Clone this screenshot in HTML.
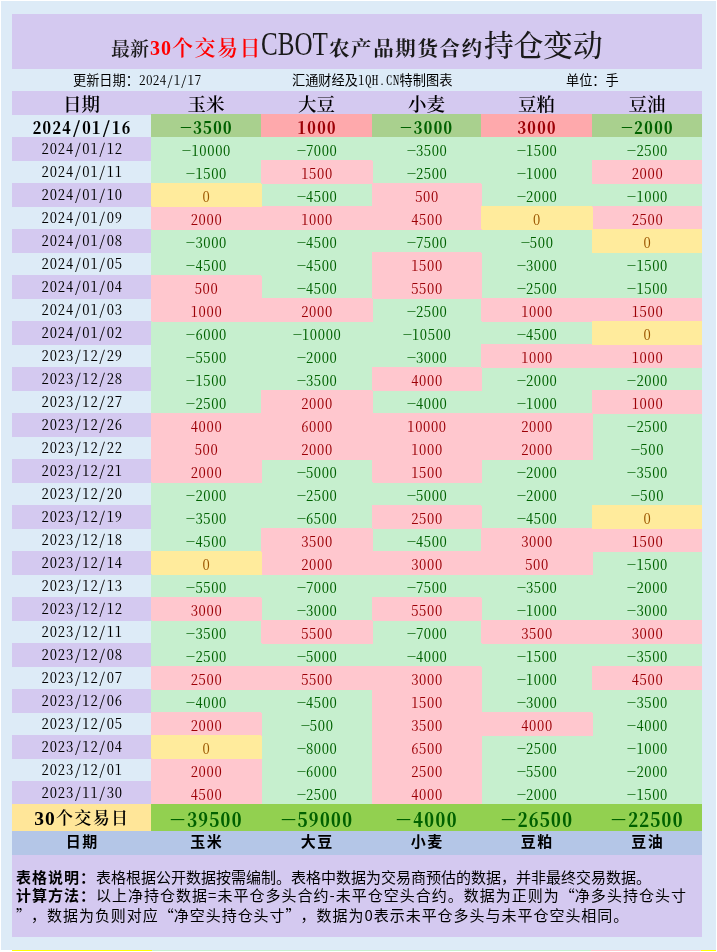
<!DOCTYPE html>
<html lang="zh-CN"><head><meta charset="utf-8"><title>最新30个交易日CBOT农产品期货合约持仓变动</title>
<style>
*{margin:0;padding:0;box-sizing:border-box}
html,body{width:717px;height:952px;overflow:hidden;background:#fff}
body{position:relative;font-family:"Liberation Sans","Noto Sans CJK SC",sans-serif}
.a{position:absolute;white-space:nowrap}
#bg{left:1px;top:1px;width:715px;height:949px;background:#DDEBF7}
#title{left:12px;top:14px;width:690px;height:55px;background:#D4C9F0}
.tt{position:absolute;white-space:nowrap;line-height:1;color:#1a1a1a}
.info{font-size:13.2px;line-height:22px;top:69px;color:#000;font-family:"Noto Sans CJK SC",sans-serif}
.info i{font-style:normal;font-family:'Noto Serif CJK SC',serif;font-feature-settings:'hwid';font-size:13.2px;letter-spacing:0.35px}
.c{position:absolute;text-align:center;white-space:nowrap;overflow:hidden;height:23px;line-height:23px}
.c>span{display:inline-block;position:relative}
.hd{background:#D4C9F0;font-family:"Noto Serif CJK SC",serif;font-weight:600;font-size:18.5px;color:#000;letter-spacing:0px}
.hd>span{top:1px;left:0px}
.d{font-family:'Noto Serif CJK SC',serif;font-feature-settings:'hwid';font-weight:400;font-size:14.6px;color:#000;letter-spacing:0.85px}
.d>span,.v>span{top:-1px;left:0.8px}
.v>span{top:0.5px;left:0.5px}
.p{background:#D4C9F0;box-shadow:0 1px 0 #D4C9F0}
.v{font-family:'Noto Serif CJK SC',serif;font-feature-settings:'hwid';font-weight:400;font-size:14.6px;letter-spacing:0.6px}
.g{background:#C6EFCE;color:#006100;z-index:1;box-shadow:1px 1px 0 #C6EFCE}
.r{background:#FFC7CE;color:#9C0006;z-index:2;box-shadow:1px 1px 0 #FFC7CE}
.y{background:#FFEB9C;color:#9C5700;z-index:3;box-shadow:1px 1px 0 #FFEB9C}
.lc.g{box-shadow:0 1px 0 #C6EFCE}
.lc.r{box-shadow:0 1px 0 #FFC7CE}
.lc.y{box-shadow:0 1px 0 #FFEB9C}
.c.f1{box-shadow:none;z-index:0}
.hd0{box-shadow:0 1px 0 #D4C9F0}
.f1{font-family:'Noto Serif CJK SC',serif;font-feature-settings:'hwid';font-weight:bold;font-size:17px;letter-spacing:1.4px}
.f1>span{top:1.2px;left:0.7px}
.sl{font-style:normal;margin:0 0px}
.mn{font-style:normal;display:inline-block;transform:scaleX(1.4);margin:0 1.5px;transform-origin:50% 50%}
.tm{font-style:normal;display:inline-block;transform:scaleX(1.6);margin:0 2.76px;transform-origin:50% 50%}
.vm{font-style:normal;display:inline-block;transform:scaleX(1.3);margin:0 0.2px 0 1.3px;transform-origin:50% 50%}
.g.f1{background:#A9D08E;color:#006100}
.r.f1{background:#FEA9AC;color:#9C0006}
.tot{height:27px;line-height:27px;z-index:5}
.totd{background:#FFE699;font-family:"Liberation Serif","Noto Serif CJK SC",serif;font-weight:600;font-size:17px;color:#000;letter-spacing:1.3px}
.n30{font-style:normal;font-size:19.5px;letter-spacing:1.2px;font-weight:bold;vertical-align:top}
.totd>span{top:1.0px;left:0.2px}
.totv{background:#92D050;color:#006100;font-family:'Noto Serif CJK SC',serif;font-feature-settings:'hwid';font-weight:700;font-size:19.5px;letter-spacing:1.4px}
.totv>span{top:1.5px;left:0.7px}
.ft{background:#B4C6E7;height:24px;line-height:24px;font-family:"Noto Sans CJK SC",sans-serif;font-weight:bold;font-size:15px;letter-spacing:1.3px;color:#000;z-index:5}
.ft>span{top:-2.3px;left:0.65px}
#notes{left:12px;top:855px;width:690px;height:82px;background:#D4C9F0}
.nl{position:absolute;left:16px;font-size:15px;line-height:1;color:#000;font-family:"Noto Sans CJK SC",sans-serif;white-space:nowrap}
.nl b{font-weight:bold;letter-spacing:1px;font-size:15px}
.ql,.qr{display:inline-block;width:15px}
.ql{text-align:right}
.qr{text-align:left}

</style></head><body>
<div class="a" id="bg"></div>
<div class="a" id="title"></div>
<div class="tt" style="left:111px;top:38px;font-size:19px;font-family:'Noto Serif CJK SC',serif;font-weight:600;letter-spacing:0px">最新</div>
<div class="tt" style="left:150px;top:38px;font-size:20px;font-family:'Liberation Serif',serif;font-weight:700;letter-spacing:1px;color:#FF0000">30</div>
<div class="tt" style="left:172px;top:35.5px;font-size:21px;font-family:'Noto Serif CJK SC',serif;font-weight:600;letter-spacing:1.5px;color:#FF0000">个交易日</div>
<div class="tt" style="left:261px;top:28px;font-size:33px;font-family:'Liberation Serif',serif;font-weight:400;letter-spacing:0px;transform:scaleX(0.76);transform-origin:0 0">CBOT</div>
<div class="tt" style="left:329px;top:36.7px;font-size:20.5px;font-family:'Noto Serif CJK SC',serif;font-weight:700;letter-spacing:1.6px">农产品期货合约</div>
<div class="tt" style="left:484px;top:29px;font-size:29.7px;font-family:'Noto Serif CJK SC',serif;font-weight:500;letter-spacing:0px">持仓变动</div>
<div class="a info" style="left:73px">更新日期：<i>2024/1/17</i></div>
<div class="a info" style="left:292px">汇通财经及<i>1QH.CN</i>特制图表</div>
<div class="a info" style="left:566px">单位：手</div>
<div class="c hd hd0" style="left:12px;top:91px;width:139px"><span>日期</span></div>
<div class="c hd" style="left:151px;top:91px;width:110px"><span>玉米</span></div>
<div class="c hd" style="left:261px;top:91px;width:111px"><span>大豆</span></div>
<div class="c hd" style="left:372px;top:91px;width:109px"><span>小麦</span></div>
<div class="c hd" style="left:481px;top:91px;width:111px"><span>豆粕</span></div>
<div class="c hd" style="left:592px;top:91px;width:110px"><span>豆油</span></div>
<div class="c f1" style="left:12px;top:114px;width:139px;color:#000"><span>2024<i class="sl">/</i>01<i class="sl">/</i>16</span></div>
<div class="c g f1" style="left:151px;top:114px;width:110px"><span><i class="mn">-</i>3500</span></div>
<div class="c r f1" style="left:261px;top:114px;width:111px"><span>1000</span></div>
<div class="c g f1" style="left:372px;top:114px;width:109px"><span><i class="mn">-</i>3000</span></div>
<div class="c r f1" style="left:481px;top:114px;width:111px"><span>3000</span></div>
<div class="c g f1 lc" style="left:592px;top:114px;width:110px"><span><i class="mn">-</i>2000</span></div>
<div class="c d p" style="left:12px;top:137px;width:139px"><span>2024/01/12</span></div>
<div class="c g v" style="left:151px;top:137px;width:110px"><span><i class="vm">-</i>10000</span></div>
<div class="c g v" style="left:261px;top:137px;width:111px"><span><i class="vm">-</i>7000</span></div>
<div class="c g v" style="left:372px;top:137px;width:109px"><span><i class="vm">-</i>3500</span></div>
<div class="c g v" style="left:481px;top:137px;width:111px"><span><i class="vm">-</i>1500</span></div>
<div class="c g v lc" style="left:592px;top:137px;width:110px"><span><i class="vm">-</i>2500</span></div>
<div class="c d" style="left:12px;top:160px;width:139px"><span>2024/01/11</span></div>
<div class="c g v" style="left:151px;top:160px;width:110px"><span><i class="vm">-</i>1500</span></div>
<div class="c r v" style="left:261px;top:160px;width:111px"><span>1500</span></div>
<div class="c g v" style="left:372px;top:160px;width:109px"><span><i class="vm">-</i>2500</span></div>
<div class="c g v" style="left:481px;top:160px;width:111px"><span><i class="vm">-</i>1000</span></div>
<div class="c r v lc" style="left:592px;top:160px;width:110px"><span>2000</span></div>
<div class="c d p" style="left:12px;top:183px;width:139px"><span>2024/01/10</span></div>
<div class="c y v" style="left:151px;top:183px;width:110px"><span>0</span></div>
<div class="c g v" style="left:261px;top:183px;width:111px"><span><i class="vm">-</i>4500</span></div>
<div class="c r v" style="left:372px;top:183px;width:109px"><span>500</span></div>
<div class="c g v" style="left:481px;top:183px;width:111px"><span><i class="vm">-</i>2000</span></div>
<div class="c g v lc" style="left:592px;top:183px;width:110px"><span><i class="vm">-</i>1000</span></div>
<div class="c d" style="left:12px;top:206px;width:139px"><span>2024/01/09</span></div>
<div class="c r v" style="left:151px;top:206px;width:110px"><span>2000</span></div>
<div class="c r v" style="left:261px;top:206px;width:111px"><span>1000</span></div>
<div class="c r v" style="left:372px;top:206px;width:109px"><span>4500</span></div>
<div class="c y v" style="left:481px;top:206px;width:111px"><span>0</span></div>
<div class="c r v lc" style="left:592px;top:206px;width:110px"><span>2500</span></div>
<div class="c d p" style="left:12px;top:229px;width:139px"><span>2024/01/08</span></div>
<div class="c g v" style="left:151px;top:229px;width:110px"><span><i class="vm">-</i>3000</span></div>
<div class="c g v" style="left:261px;top:229px;width:111px"><span><i class="vm">-</i>4500</span></div>
<div class="c g v" style="left:372px;top:229px;width:109px"><span><i class="vm">-</i>7500</span></div>
<div class="c g v" style="left:481px;top:229px;width:111px"><span><i class="vm">-</i>500</span></div>
<div class="c y v lc" style="left:592px;top:229px;width:110px"><span>0</span></div>
<div class="c d" style="left:12px;top:252px;width:139px"><span>2024/01/05</span></div>
<div class="c g v" style="left:151px;top:252px;width:110px"><span><i class="vm">-</i>4500</span></div>
<div class="c g v" style="left:261px;top:252px;width:111px"><span><i class="vm">-</i>4500</span></div>
<div class="c r v" style="left:372px;top:252px;width:109px"><span>1500</span></div>
<div class="c g v" style="left:481px;top:252px;width:111px"><span><i class="vm">-</i>3000</span></div>
<div class="c g v lc" style="left:592px;top:252px;width:110px"><span><i class="vm">-</i>1500</span></div>
<div class="c d p" style="left:12px;top:275px;width:139px"><span>2024/01/04</span></div>
<div class="c r v" style="left:151px;top:275px;width:110px"><span>500</span></div>
<div class="c g v" style="left:261px;top:275px;width:111px"><span><i class="vm">-</i>4500</span></div>
<div class="c r v" style="left:372px;top:275px;width:109px"><span>5500</span></div>
<div class="c g v" style="left:481px;top:275px;width:111px"><span><i class="vm">-</i>2500</span></div>
<div class="c g v lc" style="left:592px;top:275px;width:110px"><span><i class="vm">-</i>1500</span></div>
<div class="c d" style="left:12px;top:298px;width:139px"><span>2024/01/03</span></div>
<div class="c r v" style="left:151px;top:298px;width:110px"><span>1000</span></div>
<div class="c r v" style="left:261px;top:298px;width:111px"><span>2000</span></div>
<div class="c g v" style="left:372px;top:298px;width:109px"><span><i class="vm">-</i>2500</span></div>
<div class="c r v" style="left:481px;top:298px;width:111px"><span>1000</span></div>
<div class="c r v lc" style="left:592px;top:298px;width:110px"><span>1500</span></div>
<div class="c d p" style="left:12px;top:321px;width:139px"><span>2024/01/02</span></div>
<div class="c g v" style="left:151px;top:321px;width:110px"><span><i class="vm">-</i>6000</span></div>
<div class="c g v" style="left:261px;top:321px;width:111px"><span><i class="vm">-</i>10000</span></div>
<div class="c g v" style="left:372px;top:321px;width:109px"><span><i class="vm">-</i>10500</span></div>
<div class="c g v" style="left:481px;top:321px;width:111px"><span><i class="vm">-</i>4500</span></div>
<div class="c y v lc" style="left:592px;top:321px;width:110px"><span>0</span></div>
<div class="c d" style="left:12px;top:344px;width:139px"><span>2023/12/29</span></div>
<div class="c g v" style="left:151px;top:344px;width:110px"><span><i class="vm">-</i>5500</span></div>
<div class="c g v" style="left:261px;top:344px;width:111px"><span><i class="vm">-</i>2000</span></div>
<div class="c g v" style="left:372px;top:344px;width:109px"><span><i class="vm">-</i>3000</span></div>
<div class="c r v" style="left:481px;top:344px;width:111px"><span>1000</span></div>
<div class="c r v lc" style="left:592px;top:344px;width:110px"><span>1000</span></div>
<div class="c d p" style="left:12px;top:367px;width:139px"><span>2023/12/28</span></div>
<div class="c g v" style="left:151px;top:367px;width:110px"><span><i class="vm">-</i>1500</span></div>
<div class="c g v" style="left:261px;top:367px;width:111px"><span><i class="vm">-</i>3500</span></div>
<div class="c r v" style="left:372px;top:367px;width:109px"><span>4000</span></div>
<div class="c g v" style="left:481px;top:367px;width:111px"><span><i class="vm">-</i>2000</span></div>
<div class="c g v lc" style="left:592px;top:367px;width:110px"><span><i class="vm">-</i>2000</span></div>
<div class="c d" style="left:12px;top:390px;width:139px"><span>2023/12/27</span></div>
<div class="c g v" style="left:151px;top:390px;width:110px"><span><i class="vm">-</i>2500</span></div>
<div class="c r v" style="left:261px;top:390px;width:111px"><span>2000</span></div>
<div class="c g v" style="left:372px;top:390px;width:109px"><span><i class="vm">-</i>4000</span></div>
<div class="c g v" style="left:481px;top:390px;width:111px"><span><i class="vm">-</i>1000</span></div>
<div class="c r v lc" style="left:592px;top:390px;width:110px"><span>1000</span></div>
<div class="c d p" style="left:12px;top:413px;width:139px"><span>2023/12/26</span></div>
<div class="c r v" style="left:151px;top:413px;width:110px"><span>4000</span></div>
<div class="c r v" style="left:261px;top:413px;width:111px"><span>6000</span></div>
<div class="c r v" style="left:372px;top:413px;width:109px"><span>10000</span></div>
<div class="c r v" style="left:481px;top:413px;width:111px"><span>2000</span></div>
<div class="c g v lc" style="left:592px;top:413px;width:110px"><span><i class="vm">-</i>2500</span></div>
<div class="c d" style="left:12px;top:436px;width:139px"><span>2023/12/22</span></div>
<div class="c r v" style="left:151px;top:436px;width:110px"><span>500</span></div>
<div class="c r v" style="left:261px;top:436px;width:111px"><span>2000</span></div>
<div class="c r v" style="left:372px;top:436px;width:109px"><span>1000</span></div>
<div class="c r v" style="left:481px;top:436px;width:111px"><span>2000</span></div>
<div class="c g v lc" style="left:592px;top:436px;width:110px"><span><i class="vm">-</i>500</span></div>
<div class="c d p" style="left:12px;top:459px;width:139px"><span>2023/12/21</span></div>
<div class="c r v" style="left:151px;top:459px;width:110px"><span>2000</span></div>
<div class="c g v" style="left:261px;top:459px;width:111px"><span><i class="vm">-</i>5000</span></div>
<div class="c r v" style="left:372px;top:459px;width:109px"><span>1500</span></div>
<div class="c g v" style="left:481px;top:459px;width:111px"><span><i class="vm">-</i>2000</span></div>
<div class="c g v lc" style="left:592px;top:459px;width:110px"><span><i class="vm">-</i>3500</span></div>
<div class="c d" style="left:12px;top:482px;width:139px"><span>2023/12/20</span></div>
<div class="c g v" style="left:151px;top:482px;width:110px"><span><i class="vm">-</i>2000</span></div>
<div class="c g v" style="left:261px;top:482px;width:111px"><span><i class="vm">-</i>2500</span></div>
<div class="c g v" style="left:372px;top:482px;width:109px"><span><i class="vm">-</i>5000</span></div>
<div class="c g v" style="left:481px;top:482px;width:111px"><span><i class="vm">-</i>2000</span></div>
<div class="c g v lc" style="left:592px;top:482px;width:110px"><span><i class="vm">-</i>500</span></div>
<div class="c d p" style="left:12px;top:505px;width:139px"><span>2023/12/19</span></div>
<div class="c g v" style="left:151px;top:505px;width:110px"><span><i class="vm">-</i>3500</span></div>
<div class="c g v" style="left:261px;top:505px;width:111px"><span><i class="vm">-</i>6500</span></div>
<div class="c r v" style="left:372px;top:505px;width:109px"><span>2500</span></div>
<div class="c g v" style="left:481px;top:505px;width:111px"><span><i class="vm">-</i>4500</span></div>
<div class="c y v lc" style="left:592px;top:505px;width:110px"><span>0</span></div>
<div class="c d" style="left:12px;top:528px;width:139px"><span>2023/12/18</span></div>
<div class="c g v" style="left:151px;top:528px;width:110px"><span><i class="vm">-</i>4500</span></div>
<div class="c r v" style="left:261px;top:528px;width:111px"><span>3500</span></div>
<div class="c g v" style="left:372px;top:528px;width:109px"><span><i class="vm">-</i>4500</span></div>
<div class="c r v" style="left:481px;top:528px;width:111px"><span>3000</span></div>
<div class="c r v lc" style="left:592px;top:528px;width:110px"><span>1500</span></div>
<div class="c d p" style="left:12px;top:551px;width:139px"><span>2023/12/14</span></div>
<div class="c y v" style="left:151px;top:551px;width:110px"><span>0</span></div>
<div class="c r v" style="left:261px;top:551px;width:111px"><span>2000</span></div>
<div class="c r v" style="left:372px;top:551px;width:109px"><span>3000</span></div>
<div class="c r v" style="left:481px;top:551px;width:111px"><span>500</span></div>
<div class="c g v lc" style="left:592px;top:551px;width:110px"><span><i class="vm">-</i>1500</span></div>
<div class="c d" style="left:12px;top:574px;width:139px"><span>2023/12/13</span></div>
<div class="c g v" style="left:151px;top:574px;width:110px"><span><i class="vm">-</i>5500</span></div>
<div class="c g v" style="left:261px;top:574px;width:111px"><span><i class="vm">-</i>7000</span></div>
<div class="c g v" style="left:372px;top:574px;width:109px"><span><i class="vm">-</i>7500</span></div>
<div class="c g v" style="left:481px;top:574px;width:111px"><span><i class="vm">-</i>3500</span></div>
<div class="c g v lc" style="left:592px;top:574px;width:110px"><span><i class="vm">-</i>2000</span></div>
<div class="c d p" style="left:12px;top:597px;width:139px"><span>2023/12/12</span></div>
<div class="c r v" style="left:151px;top:597px;width:110px"><span>3000</span></div>
<div class="c g v" style="left:261px;top:597px;width:111px"><span><i class="vm">-</i>3000</span></div>
<div class="c r v" style="left:372px;top:597px;width:109px"><span>5500</span></div>
<div class="c g v" style="left:481px;top:597px;width:111px"><span><i class="vm">-</i>1000</span></div>
<div class="c g v lc" style="left:592px;top:597px;width:110px"><span><i class="vm">-</i>3000</span></div>
<div class="c d" style="left:12px;top:620px;width:139px"><span>2023/12/11</span></div>
<div class="c g v" style="left:151px;top:620px;width:110px"><span><i class="vm">-</i>3500</span></div>
<div class="c r v" style="left:261px;top:620px;width:111px"><span>5500</span></div>
<div class="c g v" style="left:372px;top:620px;width:109px"><span><i class="vm">-</i>7000</span></div>
<div class="c r v" style="left:481px;top:620px;width:111px"><span>3500</span></div>
<div class="c r v lc" style="left:592px;top:620px;width:110px"><span>3000</span></div>
<div class="c d p" style="left:12px;top:643px;width:139px"><span>2023/12/08</span></div>
<div class="c g v" style="left:151px;top:643px;width:110px"><span><i class="vm">-</i>2500</span></div>
<div class="c g v" style="left:261px;top:643px;width:111px"><span><i class="vm">-</i>5000</span></div>
<div class="c g v" style="left:372px;top:643px;width:109px"><span><i class="vm">-</i>4000</span></div>
<div class="c g v" style="left:481px;top:643px;width:111px"><span><i class="vm">-</i>1500</span></div>
<div class="c g v lc" style="left:592px;top:643px;width:110px"><span><i class="vm">-</i>3500</span></div>
<div class="c d" style="left:12px;top:666px;width:139px"><span>2023/12/07</span></div>
<div class="c r v" style="left:151px;top:666px;width:110px"><span>2500</span></div>
<div class="c r v" style="left:261px;top:666px;width:111px"><span>5500</span></div>
<div class="c r v" style="left:372px;top:666px;width:109px"><span>3000</span></div>
<div class="c g v" style="left:481px;top:666px;width:111px"><span><i class="vm">-</i>1000</span></div>
<div class="c r v lc" style="left:592px;top:666px;width:110px"><span>4500</span></div>
<div class="c d p" style="left:12px;top:689px;width:139px"><span>2023/12/06</span></div>
<div class="c g v" style="left:151px;top:689px;width:110px"><span><i class="vm">-</i>4000</span></div>
<div class="c g v" style="left:261px;top:689px;width:111px"><span><i class="vm">-</i>4500</span></div>
<div class="c r v" style="left:372px;top:689px;width:109px"><span>1500</span></div>
<div class="c g v" style="left:481px;top:689px;width:111px"><span><i class="vm">-</i>3000</span></div>
<div class="c g v lc" style="left:592px;top:689px;width:110px"><span><i class="vm">-</i>3500</span></div>
<div class="c d" style="left:12px;top:712px;width:139px"><span>2023/12/05</span></div>
<div class="c r v" style="left:151px;top:712px;width:110px"><span>2000</span></div>
<div class="c g v" style="left:261px;top:712px;width:111px"><span><i class="vm">-</i>500</span></div>
<div class="c r v" style="left:372px;top:712px;width:109px"><span>3500</span></div>
<div class="c r v" style="left:481px;top:712px;width:111px"><span>4000</span></div>
<div class="c g v lc" style="left:592px;top:712px;width:110px"><span><i class="vm">-</i>4000</span></div>
<div class="c d p" style="left:12px;top:735px;width:139px"><span>2023/12/04</span></div>
<div class="c y v" style="left:151px;top:735px;width:110px"><span>0</span></div>
<div class="c g v" style="left:261px;top:735px;width:111px"><span><i class="vm">-</i>8000</span></div>
<div class="c r v" style="left:372px;top:735px;width:109px"><span>6500</span></div>
<div class="c g v" style="left:481px;top:735px;width:111px"><span><i class="vm">-</i>2500</span></div>
<div class="c g v lc" style="left:592px;top:735px;width:110px"><span><i class="vm">-</i>1000</span></div>
<div class="c d" style="left:12px;top:758px;width:139px"><span>2023/12/01</span></div>
<div class="c r v" style="left:151px;top:758px;width:110px"><span>2000</span></div>
<div class="c g v" style="left:261px;top:758px;width:111px"><span><i class="vm">-</i>6000</span></div>
<div class="c r v" style="left:372px;top:758px;width:109px"><span>2500</span></div>
<div class="c g v" style="left:481px;top:758px;width:111px"><span><i class="vm">-</i>5500</span></div>
<div class="c g v lc" style="left:592px;top:758px;width:110px"><span><i class="vm">-</i>2000</span></div>
<div class="c d p" style="left:12px;top:781px;width:139px"><span>2023/11/30</span></div>
<div class="c r v" style="left:151px;top:781px;width:110px"><span>4500</span></div>
<div class="c g v" style="left:261px;top:781px;width:111px"><span><i class="vm">-</i>2500</span></div>
<div class="c r v" style="left:372px;top:781px;width:109px"><span>4000</span></div>
<div class="c g v" style="left:481px;top:781px;width:111px"><span><i class="vm">-</i>2000</span></div>
<div class="c g v lc" style="left:592px;top:781px;width:110px"><span><i class="vm">-</i>1500</span></div>
<div class="c tot totd" style="left:12px;top:804px;width:139px"><span><i class="n30">30</i>个交易日</span></div>
<div class="c tot totv" style="left:151px;top:804px;width:110px"><span><i class="tm">-</i>39500</span></div>
<div class="c tot totv" style="left:261px;top:804px;width:111px"><span><i class="tm">-</i>59000</span></div>
<div class="c tot totv" style="left:372px;top:804px;width:109px"><span><i class="tm">-</i>4000</span></div>
<div class="c tot totv" style="left:481px;top:804px;width:111px"><span><i class="tm">-</i>26500</span></div>
<div class="c tot totv" style="left:592px;top:804px;width:110px"><span><i class="tm">-</i>22500</span></div>
<div class="c ft" style="left:12px;top:831px;width:139px"><span>日期</span></div>
<div class="c ft" style="left:151px;top:831px;width:110px"><span>玉米</span></div>
<div class="c ft" style="left:261px;top:831px;width:111px"><span>大豆</span></div>
<div class="c ft" style="left:372px;top:831px;width:109px"><span>小麦</span></div>
<div class="c ft" style="left:481px;top:831px;width:111px"><span>豆粕</span></div>
<div class="c ft" style="left:592px;top:831px;width:110px"><span>豆油</span></div>
<div class="a" id="notes"></div>
<div class="nl" style="top:868.7px"><b>表格说明：</b><span style="letter-spacing:0px">表格根据公开数据按需编制。表格中数据为交易商预估的数据，并非最终交易数据。</span></div>
<div class="nl" style="top:887.0px"><b>计算方法：</b><span style="letter-spacing:1.01px">以上净持仓数据=未平仓多头合约-未平仓空头合约。数据为正则为<span class="ql">“</span>净多头持仓头寸</span></div>
<div class="nl" style="top:907.1px"><span style="letter-spacing:0.97px"><span class="qr">”</span>，数据为负则对应<span class="ql">“</span>净空头持仓头寸<span class="qr">”</span>，数据为0表示未平仓多头与未平仓空头相同。</span></div>
<div class="a" style="left:12px;top:950px;width:140px;height:1px;background:#FFFF00"></div>
<div class="a" style="left:152px;top:950px;width:439px;height:1px;background:#C6EFCE"></div>
<div class="a" style="left:591px;top:950px;width:110px;height:1px;background:#FFC7CE"></div>
<div class="a" style="left:701px;top:950px;width:15px;height:1px;background:#FFFF00"></div>
</body></html>
